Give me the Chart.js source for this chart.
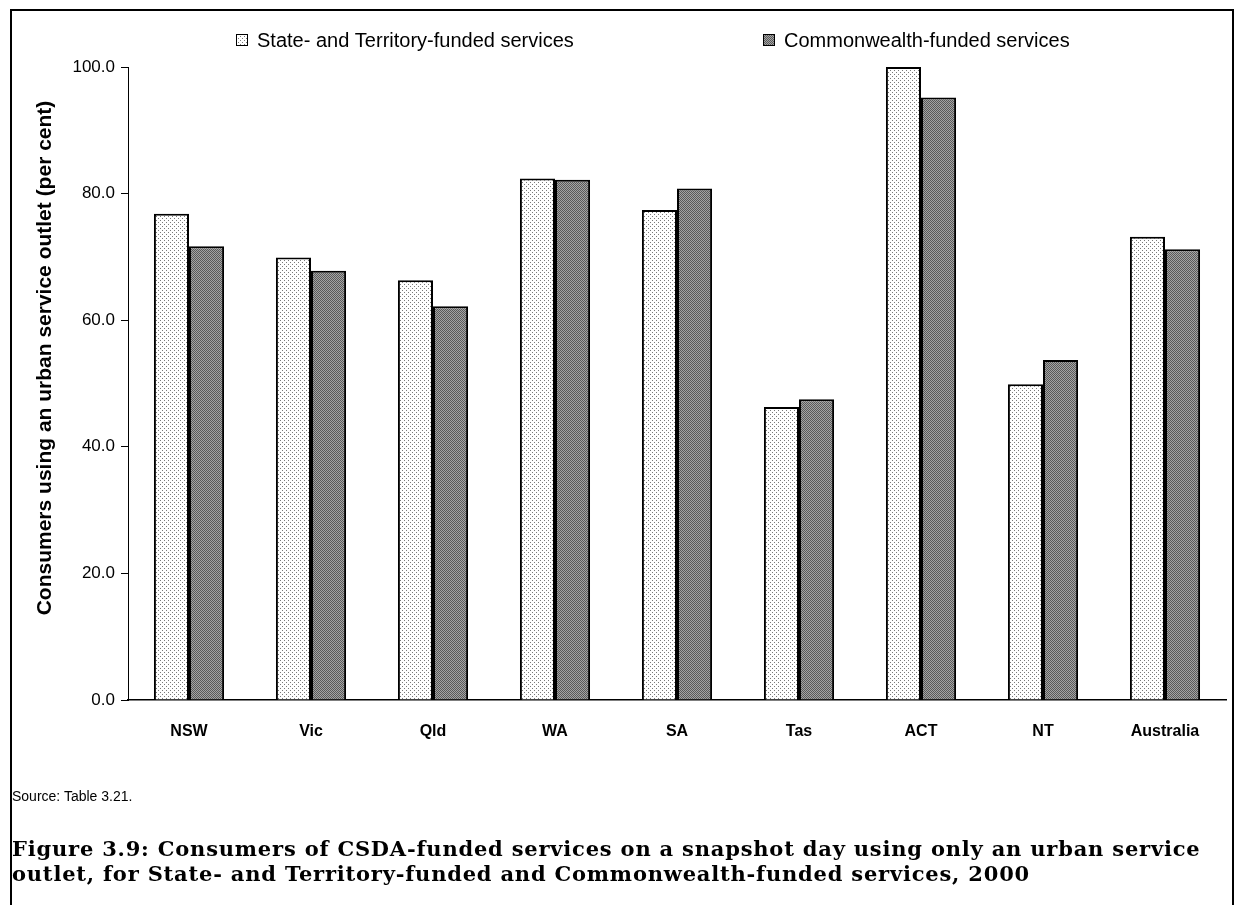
<!DOCTYPE html>
<html>
<head>
<meta charset="utf-8">
<script src="https://cdn.jsdelivr.net/npm/chart.js@4.4.1/dist/chart.umd.min.js"></script>
<style>
  html, body { margin: 0; padding: 0; background: #fff; }
  #wrap { position: relative; width: 1236px; height: 905px; overflow: hidden; }
  #frame { position: absolute; left: 10px; top: 9px; width: 1224px; height: 900px;
           border-left: 2px solid #000; border-top: 2px solid #000; border-right: 2px solid #000; box-sizing: border-box; }
  #c { position: absolute; left: 0; top: 0; }
  #source { position: absolute; left: 12px; top: 788px; font-family: "Liberation Sans", Arial, sans-serif;
            font-size: 14px; color: #000; }
  #caption { position: absolute; left: 12px; top: 836px; font-family: "DejaVu Serif", serif; font-weight: bold;
             font-size: 21px; letter-spacing: 0.8px; line-height: 25px; color: #000; white-space: nowrap; }
</style>
</head>
<body>
<div id="wrap">
  <div id="frame"></div>
  <canvas id="c" width="1236" height="905"></canvas>
  <div id="source">Source: Table 3.21.</div>
  <div id="caption"><span id="cap1">Figure 3.9: Consumers of CSDA-funded services on a snapshot day using only an urban service</span><br><span id="cap2">outlet, for State- and Territory-funded and Commonwealth-funded services, 2000</span></div>
</div>
<script>
const categories = ["NSW", "Vic", "Qld", "WA", "SA", "Tas", "ACT", "NT", "Australia"];
const stateFunded = [76.8, 69.9, 66.3, 82.4, 77.4, 46.3, 100.0, 49.9, 73.2];
const commonwealthFunded = [71.7, 67.8, 62.2, 82.2, 80.8, 47.5, 95.2, 53.7, 71.2];
const seriesNames = ["State- and Territory-funded services", "Commonwealth-funded services"];
const yTicks = [0, 20, 40, 60, 80, 100];
const yTitle = "Consumers using an urban service outlet (per cent)";

function makePattern(kind) {
  const p = document.createElement('canvas');
  const ctx = p.getContext('2d');
  if (kind === 'light') {
    p.width = 4; p.height = 4;
    ctx.fillStyle = '#ffffff'; ctx.fillRect(0, 0, 4, 4);
    ctx.fillStyle = '#7a7a7a';
    ctx.fillRect(0, 0, 1, 1);
    ctx.fillRect(2, 2, 1, 1);
  } else {
    p.width = 2; p.height = 2;
    ctx.fillStyle = '#a4a4a4'; ctx.fillRect(0, 0, 2, 2);
    ctx.fillStyle = '#5a5a5a';
    ctx.fillRect(0, 0, 1, 1);
    ctx.fillRect(1, 1, 1, 1);
  }
  return document.getElementById('c').getContext('2d').createPattern(p, 'repeat');
}
const lightPat = makePattern('light');
const darkPat = makePattern('dark');

const legendPlugin = {
  id: 'customLegend',
  afterDraw(chart) {
    const ctx = chart.ctx;
    const items = [
      { x: 236, label: seriesNames[0], fill: lightPat },
      { x: 763, label: seriesNames[1], fill: darkPat }
    ];
    ctx.save();
    ctx.font = '20px "Liberation Sans", Arial, sans-serif';
    ctx.textBaseline = 'middle';
    items.forEach(it => {
      ctx.fillStyle = it.fill;
      ctx.fillRect(it.x, 34, 12, 12);
      ctx.strokeStyle = '#000';
      ctx.lineWidth = 1;
      ctx.strokeRect(it.x + 0.5, 34.5, 11, 11);
      ctx.fillStyle = '#000';
      ctx.fillText(it.label, it.x + 21, 41);
    });
    // y-axis title
    ctx.translate(45, 358);
    ctx.rotate(-Math.PI / 2);
    ctx.font = 'bold 21px "Liberation Sans", Arial, sans-serif';
    ctx.textAlign = 'center';
    ctx.fillText(yTitle, 0, 0);
    ctx.restore();
  }
};

new Chart(document.getElementById('c'), {
  type: 'bar',
  data: {
    labels: categories,
    datasets: [
      { label: seriesNames[0], data: stateFunded, backgroundColor: lightPat, borderColor: '#000', borderWidth: 2,
        categoryPercentage: 0.575, barPercentage: 1.0 },
      { label: seriesNames[1], data: commonwealthFunded, backgroundColor: darkPat, borderColor: '#000', borderWidth: 2,
        categoryPercentage: 0.575, barPercentage: 1.0 }
    ]
  },
  options: {
    responsive: false,
    animation: false,
    devicePixelRatio: 1,
    layout: { padding: { left: 34, right: 10, top: 67, bottom: 155 } },
    plugins: { legend: { display: false }, tooltip: { enabled: false } },
    scales: {
      x: {
        grid: { display: false },
        border: { display: true, color: '#000', width: 1.5 },
        ticks: { color: '#000', font: { family: '"Liberation Sans", Arial, sans-serif', size: 16, weight: 'bold' }, padding: 14 },
        afterFit(s) { s.height = 50; }
      },
      y: {
        min: 0, max: 100,
        afterBuildTicks(s) { s.ticks = yTicks.map(v => ({ value: v })); },
        grid: { display: true, drawOnChartArea: false, drawTicks: true, tickLength: 7, color: '#000', lineWidth: 1 },
        border: { display: true, color: '#000', width: 1 },
        ticks: { color: '#000', padding: 6, font: { family: '"Liberation Sans", Arial, sans-serif', size: 17 },
                 callback: v => Number(v).toFixed(1) },
        title: { display: false },
        afterFit(s) { s.width = 94; }
      }
    }
  },
  plugins: [legendPlugin]
});
</script>
</body>
</html>
